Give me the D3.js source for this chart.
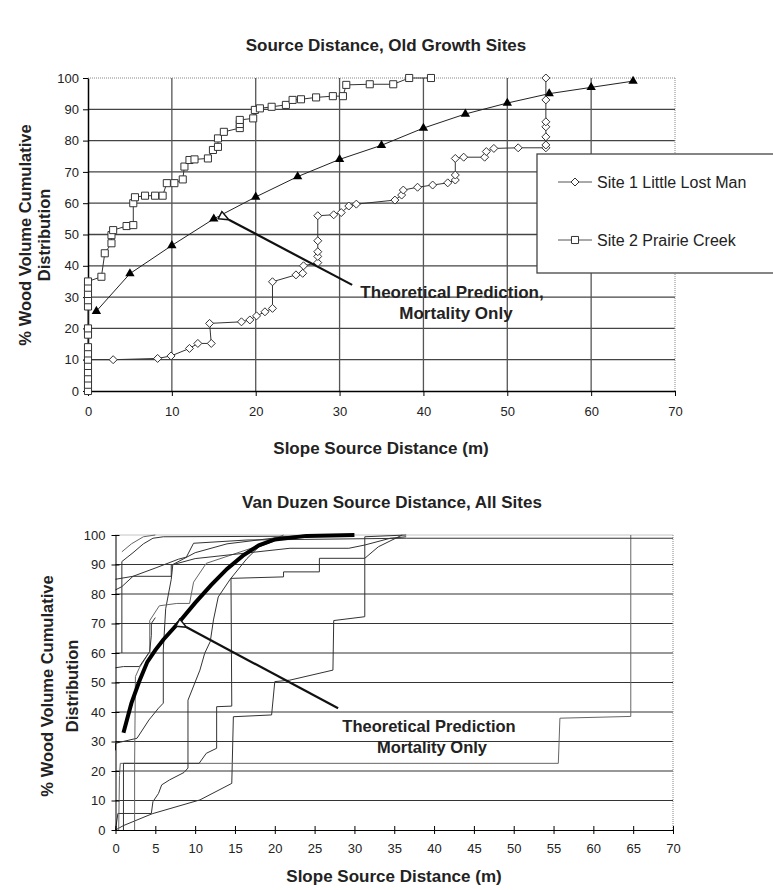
<!DOCTYPE html>
<html>
<head>
<meta charset="utf-8">
<script src="https://cdn.jsdelivr.net/npm/d3@7"></script>
<style>
body { margin: 0; background: #fff; }
svg { font-family: "Liberation Sans", Arial, sans-serif; }
</style>
</head>
<body>
<div id="chart"></div>
<script>
// ---- data: top chart (old growth sites) ----
var topXTicks = [0, 10, 20, 30, 40, 50, 60, 70];
var yTicks = [0, 10, 20, 30, 40, 50, 60, 70, 80, 90, 100];

var theoryX = [1, 5, 10, 15, 20, 25, 30, 35, 40, 45, 50, 55, 60, 65];
var theoryY = [25.5, 37.5, 46.5, 55, 62, 68.5, 74, 78.5, 84, 88.5, 92, 95, 97, 99];

var site1 = [[0, 10], [3, 10], [8.3, 10.4], [9.9, 11.2], [12.1, 13.6], [13.1, 15.2], [14.7, 15.2],
  [14.5, 21.6], [18.3, 22.1], [19.3, 22.7], [20.1, 24], [21.1, 25.3], [22, 26.4], [22, 34.9],
  [24.8, 37.1], [25.6, 37.6], [25.7, 40], [27.4, 41], [27.4, 43], [27.4, 44.5], [27.4, 48],
  [27.4, 56], [29.3, 56.3], [30.2, 57], [31.1, 59.1], [32, 59.7], [36.6, 61], [37.4, 62.6],
  [37.6, 64.2], [39.3, 65.1], [41.1, 65.8], [42.9, 66.5], [43.8, 67.4], [43.8, 69], [43.8, 74.3],
  [44.8, 74.7], [47.3, 74.7], [47.5, 76.5], [48.4, 77.5], [51.3, 77.7], [54.6, 77.7], [54.6, 78.6],
  [54.6, 81.2], [54.6, 84.4], [54.6, 86], [54.6, 93], [54.6, 100]];

var site2 = [[0, 0], [0, 2], [0, 4], [0, 6], [0, 8], [0, 10], [0, 12], [0, 14], [0, 18], [0, 20],
  [0, 27], [0, 29], [0, 31], [0, 33], [0, 35], [1.6, 36.5], [2, 44], [2.8, 47.2], [2.8, 49.8],
  [3, 51.4], [4.6, 52.7], [5.4, 53], [5.4, 60], [5.6, 61.9], [6.8, 62.4], [8, 62.4], [8.9, 62.4],
  [9.4, 66.4], [10.3, 66.4], [11.3, 67.6], [11.5, 71.7], [12.1, 73.8], [12.7, 74], [14.3, 74.3],
  [14.9, 77], [15.5, 78], [15.5, 80.7], [16.2, 82.8], [18.1, 84], [18.1, 85.3], [18.1, 86.6],
  [19.7, 87.1], [19.9, 89.8], [20.5, 90.3], [21.9, 90.8], [23.6, 91.4], [24.4, 93], [25.4, 93.2],
  [27.2, 93.8], [29.2, 94.2], [30.4, 94.2], [30.8, 97.8], [33.6, 98], [36.4, 98], [38.3, 100], [40.9, 100]];

var legendNames = ["Site 1 Little Lost Man", "Site 2 Prairie Creek"];
var topArrow = [[31.5, 33.9], [16.8, 54.7]];

// ---- data: bottom chart (Van Duzen, all sites) ----
var botXTicks = [0, 5, 10, 15, 20, 25, 30, 35, 40, 45, 50, 55, 60, 65, 70];
var vdTheory = [[1, 33], [2, 43], [3, 50.5], [4, 57], [5, 61], [6, 64.5], [8, 70.5], [10, 77],
  [12, 83], [14, 88.5], [16, 93], [18, 96.5], [20, 98.5], [24, 99.7], [30, 100]];
var vdSites = [
  [[0, 0], [1, 1.5], [4.6, 5.5], [10.6, 10.2], [14.6, 15.8], [14.8, 38.4], [19.6, 39], [20, 50.3],
    [21.9, 50.8], [27.3, 54.2], [27.4, 71], [31.3, 72.3], [31.3, 99.4], [36.5, 100]],
  [[0, 0], [0.3, 5.6], [4.5, 5.6], [4.7, 9.6], [5.4, 12.4], [5.8, 15.3], [6.8, 17], [8.6, 19.5],
    [9.1, 21], [9.1, 44], [10.6, 54.2], [11.2, 59.9], [11.9, 63.9], [12.3, 71.2], [12.9, 79],
    [14.4, 85], [16.5, 92], [18, 96], [21, 99], [25, 100]],
  [[0.4, 0], [0.5, 18.5], [0.6, 22.6], [55.6, 22.6], [55.8, 37.9], [64.7, 38.5], [64.7, 100]],
  [[1, 0], [1, 22.6], [10.5, 22.6], [11.4, 26], [12.7, 27.7], [12.7, 41.8], [14.6, 42], [14.5, 85.3],
    [21.1, 85.8], [21.1, 87.5], [25.6, 87.5], [25.6, 92.1], [31.3, 92.1], [33, 96], [36, 100]],
  [[0, 27], [0, 29.4], [2.7, 31.1], [4.2, 37.3], [5.4, 41.3], [6, 43], [6, 61], [6.3, 75], [7, 85],
    [7.2, 90], [10, 94], [14, 97], [20, 99], [24, 100]],
  [[2.4, 0], [2.4, 22.6], [2.5, 52], [3, 55], [4.3, 60.5], [4.3, 71], [5.5, 76], [7.7, 76.8],
    [9.3, 76.8], [9.8, 84], [11.4, 90.4], [17.7, 96.1], [21.1, 100]],
  [[0, 81.4], [0.8, 82.5], [2.2, 86], [5.2, 89], [7.9, 91.8], [8.9, 92.5], [9.8, 97.2], [16.5, 98.3],
    [36.5, 98.9], [70, 98.9]],
  [[0.8, 60], [0.8, 91], [2.2, 94], [3.5, 97], [4.7, 98.9], [6, 99.4], [24.4, 99.6]],
  [[0.8, 94.3], [2, 97], [3.5, 99.4], [5, 100]],
  [[0, 55], [1, 55.4], [3, 55.4], [4.3, 60.5], [4.5, 66], [4.5, 70], [5, 72]],
  [[0, 85], [2.2, 86], [7, 86], [7, 89.8], [10, 92], [21.9, 95.5], [29.3, 95.5], [31.3, 96.6],
    [34.5, 98.9], [36.5, 99.4]]
];

var W = 773, H = 890;
var svg = d3.select('#chart').append('svg')
  .attr('width', W)
  .attr('height', H);

// ================= top chart =================
var xa = d3.scaleLinear().domain([0, 70]).range([88, 675]);
var ya = d3.scaleLinear().domain([0, 100]).range([391, 78]);

var gTop = svg.append('g');

// grid
gTop.selectAll('.hg').data(yTicks.slice(1, 10)).enter().append('line')
  .attr('x1', xa(0)).attr('x2', xa(70))
  .attr('y1', function (d) { return ya(d); }).attr('y2', function (d) { return ya(d); })
  .attr('stroke', '#444').attr('stroke-width', 1.3);
gTop.selectAll('.vg').data(topXTicks.slice(1, 7)).enter().append('line')
  .attr('x1', function (d) { return xa(d); }).attr('x2', function (d) { return xa(d); })
  .attr('y1', ya(0)).attr('y2', ya(100))
  .attr('stroke', '#555').attr('stroke-width', 1.3);
// dotted frame top / right
gTop.append('line').attr('x1', xa(0)).attr('x2', xa(70)).attr('y1', ya(100)).attr('y2', ya(100))
  .attr('stroke', '#888').attr('stroke-dasharray', '1,1');
gTop.append('line').attr('x1', xa(70)).attr('x2', xa(70)).attr('y1', ya(100)).attr('y2', ya(0))
  .attr('stroke', '#888').attr('stroke-dasharray', '1,1');

// axes
gTop.append('g').attr('transform', 'translate(' + xa(0) + ',0)')
  .call(d3.axisLeft(ya).tickValues(yTicks).tickSize(5).tickSizeOuter(0).tickPadding(4))
  .call(function (g) {
    g.selectAll('text').style('font-size', '13px').attr('fill', '#222');
    g.select('.domain').attr('stroke-width', 1.5);
  });
gTop.append('g').attr('transform', 'translate(0,' + ya(0) + ')')
  .call(d3.axisBottom(xa).tickValues(topXTicks).tickSize(5).tickSizeOuter(0).tickPadding(11))
  .call(function (g) {
    g.selectAll('text').style('font-size', '13px').attr('fill', '#222');
    g.select('.domain').attr('stroke-width', 1.5);
  });

// theory line + triangles
var theory = theoryX.map(function (d, i) { return [d, theoryY[i]]; });
var lineA = d3.line().x(function (d) { return xa(d[0]); }).y(function (d) { return ya(d[1]); });
gTop.append('path').attr('d', lineA(theory)).attr('fill', 'none')
  .attr('stroke', '#222').attr('stroke-width', 1);
gTop.selectAll('.tri').data(theory).enter().append('path')
  .attr('d', d3.symbol().type(d3.symbolTriangle).size(38))
  .attr('transform', function (d) { return 'translate(' + xa(d[0]) + ',' + ya(d[1]) + ')'; })
  .attr('fill', '#000');

// site lines
gTop.append('path').attr('d', lineA(site1)).attr('fill', 'none').attr('stroke', '#333').attr('stroke-width', 1);
gTop.append('path').attr('d', lineA(site2)).attr('fill', 'none').attr('stroke', '#333').attr('stroke-width', 1);

var diamond = 'M0,-4L4,0L0,4L-4,0Z';
gTop.selectAll('.s1').data(site1).enter().append('path')
  .attr('d', diamond)
  .attr('transform', function (d) { return 'translate(' + xa(d[0]) + ',' + ya(d[1]) + ')'; })
  .attr('fill', '#fff').attr('stroke', '#333').attr('stroke-width', 1);
gTop.selectAll('.s2').data(site2).enter().append('path')
  .attr('d', d3.symbol().type(d3.symbolSquare).size(50))
  .attr('transform', function (d) { return 'translate(' + xa(d[0]) + ',' + ya(d[1]) + ')'; })
  .attr('fill', '#fff').attr('stroke', '#333').attr('stroke-width', 1);

// arrow marker
var defs = svg.append('defs');
defs.append('marker').attr('id', 'head')
  .attr('viewBox', '0 0 12 10').attr('refX', 1).attr('refY', 5)
  .attr('markerWidth', 12).attr('markerHeight', 10).attr('markerUnits', 'userSpaceOnUse')
  .attr('orient', 'auto-start-reverse')
  .append('path').attr('d', 'M11,1L1,5L11,9Z')
  .attr('fill', '#fff').attr('stroke', '#111').attr('stroke-width', 1.5);

gTop.append('path').attr('d', lineA(topArrow)).attr('fill', 'none')
  .attr('stroke', '#111').attr('stroke-width', 2.2).attr('marker-end', 'url(#head)');

// legend
var lg = gTop.append('g');
lg.append('rect').attr('x', 537).attr('y', 154).attr('width', 250).attr('height', 119)
  .attr('fill', '#fff').attr('stroke', '#444').attr('stroke-width', 1.3);
[0, 1].forEach(function (i) {
  var yy = 182 + i * 58;
  lg.append('line').attr('x1', 558).attr('x2', 592).attr('y1', yy).attr('y2', yy)
    .attr('stroke', '#555').attr('stroke-width', 1);
  lg.append('path').attr('d', i === 0 ? diamond : d3.symbol().type(d3.symbolSquare).size(50)())
    .attr('transform', 'translate(575,' + yy + ')')
    .attr('fill', '#fff').attr('stroke', '#333');
  lg.append('text').attr('x', 597).attr('y', yy).attr('dy', '0.35em')
    .style('font-size', '16px').attr('fill', '#222').text(legendNames[i]);
});

// annotation
gTop.append('text').attr('x', 452).attr('y', 292).attr('dy', '0.35em').attr('text-anchor', 'middle')
  .style('font-size', '17px').style('font-weight', 'bold').attr('fill', '#222').text('Theoretical Prediction,');
gTop.append('text').attr('x', 456).attr('y', 313).attr('dy', '0.35em').attr('text-anchor', 'middle')
  .style('font-size', '17px').style('font-weight', 'bold').attr('fill', '#222').text('Mortality Only');

// titles
svg.append('text').attr('x', 386).attr('y', 45).attr('dy', '0.35em').attr('text-anchor', 'middle')
  .style('font-size', '17px').style('font-weight', 'bold').attr('fill', '#222')
  .text('Source Distance, Old Growth Sites');
svg.append('text').attr('x', 381).attr('y', 448).attr('dy', '0.35em').attr('text-anchor', 'middle')
  .style('font-size', '17px').style('font-weight', 'bold').attr('fill', '#222')
  .text('Slope Source Distance (m)');
var yt1 = svg.append('g').attr('transform', 'translate(0,235)');
yt1.append('text').attr('transform', 'translate(25,0) rotate(-90)').attr('dy', '0.35em')
  .attr('text-anchor', 'middle').style('font-size', '16.5px').style('font-weight', 'bold').attr('fill', '#222')
  .text('% Wood Volume Cumulative');
yt1.append('text').attr('transform', 'translate(44,0) rotate(-90)').attr('dy', '0.35em')
  .attr('text-anchor', 'middle').style('font-size', '16.5px').style('font-weight', 'bold').attr('fill', '#222')
  .text('Distribution');

// ================= bottom chart =================
var xb = d3.scaleLinear().domain([0, 70]).range([115.5, 673]);
var yb = d3.scaleLinear().domain([0, 100]).range([830, 535]);
var gBot = svg.append('g');

gBot.selectAll('.hg').data(yTicks.slice(1, 10)).enter().append('line')
  .attr('x1', xb(0)).attr('x2', xb(70))
  .attr('y1', function (d) { return yb(d); }).attr('y2', function (d) { return yb(d); })
  .attr('stroke', '#333').attr('stroke-width', 1.2);
gBot.append('line').attr('x1', xb(0)).attr('x2', xb(70)).attr('y1', yb(100)).attr('y2', yb(100))
  .attr('stroke', '#888').attr('stroke-dasharray', '1,1');
gBot.append('line').attr('x1', xb(70)).attr('x2', xb(70)).attr('y1', yb(100)).attr('y2', yb(0))
  .attr('stroke', '#888').attr('stroke-dasharray', '1,1');

var lineB = d3.line().x(function (d) { return xb(d[0]); }).y(function (d) { return yb(d[1]); });
gBot.selectAll('.site').data(vdSites).enter().append('path')
  .attr('d', function (d) { return lineB(d); })
  .attr('fill', 'none').attr('stroke', function (d, i) { return i % 3 === 2 ? '#666' : '#333'; })
  .attr('stroke-width', 1);
gBot.append('path').attr('d', lineB(vdTheory)).attr('fill', 'none')
  .attr('stroke', '#000').attr('stroke-width', 4);

gBot.append('g').attr('transform', 'translate(' + xb(0) + ',0)')
  .call(d3.axisLeft(yb).tickValues(yTicks).tickSize(4).tickSizeOuter(0).tickPadding(6))
  .call(function (g) {
    g.selectAll('text').style('font-size', '13px').attr('fill', '#222');
    g.selectAll('.tick line').attr('x1', 4);
  });
gBot.append('g').attr('transform', 'translate(0,' + yb(0) + ')')
  .call(d3.axisBottom(xb).tickValues(botXTicks).tickSize(4).tickSizeOuter(0).tickPadding(10))
  .call(function (g) {
    g.selectAll('text').style('font-size', '13px').attr('fill', '#222');
    g.selectAll('.tick line').attr('y1', -4);
  });

var botArrow = [[27.95, 41.25], [8.93, 68.7]];
gBot.append('path').attr('d', lineB(botArrow)).attr('fill', 'none')
  .attr('stroke', '#111').attr('stroke-width', 2.2).attr('marker-end', 'url(#head)');

gBot.append('text').attr('x', 429).attr('y', 726).attr('dy', '0.35em').attr('text-anchor', 'middle')
  .style('font-size', '16.5px').style('font-weight', 'bold').attr('fill', '#222').text('Theoretical Prediction');
gBot.append('text').attr('x', 432).attr('y', 747).attr('dy', '0.35em').attr('text-anchor', 'middle')
  .style('font-size', '16.5px').style('font-weight', 'bold').attr('fill', '#222').text('Mortality Only');

svg.append('text').attr('x', 392).attr('y', 502).attr('dy', '0.35em').attr('text-anchor', 'middle')
  .style('font-size', '17px').style('font-weight', 'bold').attr('fill', '#222')
  .text('Van Duzen Source Distance, All Sites');
svg.append('text').attr('x', 394).attr('y', 876).attr('dy', '0.35em').attr('text-anchor', 'middle')
  .style('font-size', '17px').style('font-weight', 'bold').attr('fill', '#222')
  .text('Slope Source Distance (m)');
var yt2 = svg.append('g').attr('transform', 'translate(0,686)');
yt2.append('text').attr('transform', 'translate(47,0) rotate(-90)').attr('dy', '0.35em')
  .attr('text-anchor', 'middle').style('font-size', '16.5px').style('font-weight', 'bold').attr('fill', '#222')
  .text('% Wood Volume Cumulative');
yt2.append('text').attr('transform', 'translate(72,0) rotate(-90)').attr('dy', '0.35em')
  .attr('text-anchor', 'middle').style('font-size', '16.5px').style('font-weight', 'bold').attr('fill', '#222')
  .text('Distribution');
</script>
</body>
</html>
